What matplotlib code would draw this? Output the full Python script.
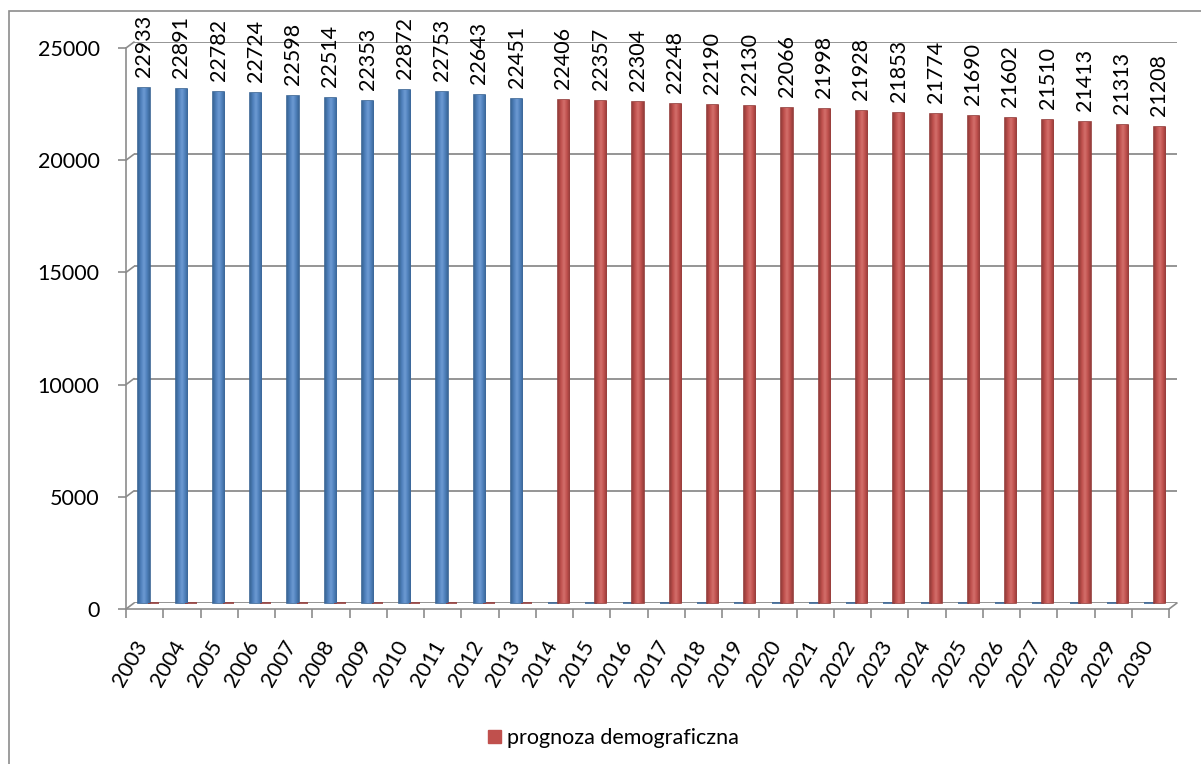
import matplotlib
matplotlib.use("Agg")
import matplotlib.pyplot as plt
import numpy as np
from matplotlib.colors import LinearSegmentedColormap
from matplotlib.patches import ConnectionPatch, Patch, Rectangle
from matplotlib.transforms import ScaledTranslation

plt.rcParams["font.family"] = ["Lato", "DejaVu Sans"]
plt.rcParams["font.size"] = 15.5

years = [str(y) for y in range(2003, 2031)]
observed = [22933, 22891, 22782, 22724, 22598, 22514, 22353, 22872, 22753, 22643, 22451]
forecast = [22406, 22357, 22304, 22248, 22190, 22130, 22066, 21998, 21928, 21853, 21774,
            21690, 21602, 21510, 21413, 21313, 21208]
# both series span every year; the missing part of each one is zero
observed_full = observed + [0] * len(forecast)
forecast_full = [0] * len(observed) + forecast
yticks = [0, 5000, 10000, 15000, 20000, 25000]
legend_label = "prognoza demograficzna"

BLUE = "#4F81BD"
RED = "#C0504D"
GRID = "#8C8C8C"

W, H = 1201, 764
fig = plt.figure(figsize=(W / 100, H / 100), dpi=100)

# back wall (gridlines + bars) and front frame (axis lines, ticks, labels),
# shifted by a few pixels to fake the excel 3d depth
back = fig.add_axes([134 / W, (H - 603) / H, 1043 / W, 561 / H], facecolor="none")
front = fig.add_axes([126 / W, (H - 609) / H, 1043 / W, 561 / H], facecolor="none")
front.set_zorder(0)
back.set_zorder(1)

x = np.arange(len(years))
for a in (back, front):
    a.set_xlim(-0.5, len(years) - 0.5)
    a.set_ylim(0, 25000)

# back wall
for s in back.spines.values():
    s.set_visible(False)
back.set_xticks([])
back.set_yticks(yticks)
back.tick_params(length=0, labelleft=False)
back.grid(axis="y", color=GRID, linewidth=1.3)
back.set_axisbelow(True)

# front frame
for s in ("top", "right"):
    front.spines[s].set_visible(False)
for s in ("left", "bottom"):
    front.spines[s].set_color(GRID)
    front.spines[s].set_linewidth(1.2)
front.set_yticks(yticks)
front.set_yticklabels([str(v) for v in yticks])
front.tick_params(axis="y", direction="out", length=6, width=1.2, color=GRID, pad=13)
front.set_xticks(x)
front.set_xticklabels(years, rotation=60, ha="right")
front.set_xticks(np.arange(len(years) + 1) - 0.5, minor=True)
front.tick_params(axis="x", which="major", length=0, pad=20)
front.tick_params(axis="x", which="minor", direction="out", length=6.5, width=1.2, color=GRID)
shift = ScaledTranslation(7 / 100, 0, fig.dpi_scale_trans)
for lab in front.get_xticklabels():
    lab.set_transform(lab.get_transform() + shift)

# depth connectors between front frame and back wall
for v in yticks:
    fig.add_artist(ConnectionPatch((-0.5, v), (-0.5, v), "data", "data",
                                   axesA=front, axesB=back, color=GRID, linewidth=1.2))
fig.add_artist(ConnectionPatch((len(years) - 0.5, 0), (len(years) - 0.5, 0), "data", "data",
                               axesA=front, axesB=back, color=GRID, linewidth=1.2))


def cylinder_cmap(color, dark, light):
    return LinearSegmentedColormap.from_list("cyl", [dark, color, light, color, dark])


def draw_series(vals, offset, color, edge, light):
    bars = back.bar(x + offset, vals, width=0.3, color=color, edgecolor=edge,
                    linewidth=1.2, zorder=3, clip_on=False)
    cmap = cylinder_cmap(color, edge, light)
    grad = np.linspace(0, 1, 64).reshape(1, -1)
    for b, v in zip(bars, vals):
        if v == 0:
            continue
        x0, w = b.get_x(), b.get_width()
        im = back.imshow(grad, cmap=cmap, aspect="auto", zorder=3.5,
                         extent=(x0, x0 + w, 0, v), interpolation="bicubic")
        im.set_clip_path(b)
        back.annotate(f"{v}", (x0 + w / 2, v), xytext=(0, 8), textcoords="offset points",
                      rotation=90, ha="center", va="bottom", zorder=5)
    return bars


draw_series(observed_full, -0.23, BLUE, "#3A6595", "#6E9BD3")
draw_series(forecast_full, 0.03, RED, "#943C3A", "#D4706C")
back.set_xlim(-0.5, len(years) - 0.5)
back.set_ylim(0, 25000)

fig.legend(handles=[Patch(facecolor=RED, edgecolor=RED, label=legend_label)],
           loc="center", bbox_to_anchor=(0.511, 0.034), frameon=False,
           handlelength=0.6, handleheight=0.6, handletextpad=0.3)

# chart area border
fig.add_artist(Rectangle((9 / W, -0.1), 1.2, 1.1 - 11 / H, transform=fig.transFigure,
                         fill=False, edgecolor="#8C8C8C", linewidth=1.2))

fig.savefig("out.png", dpi=100)
